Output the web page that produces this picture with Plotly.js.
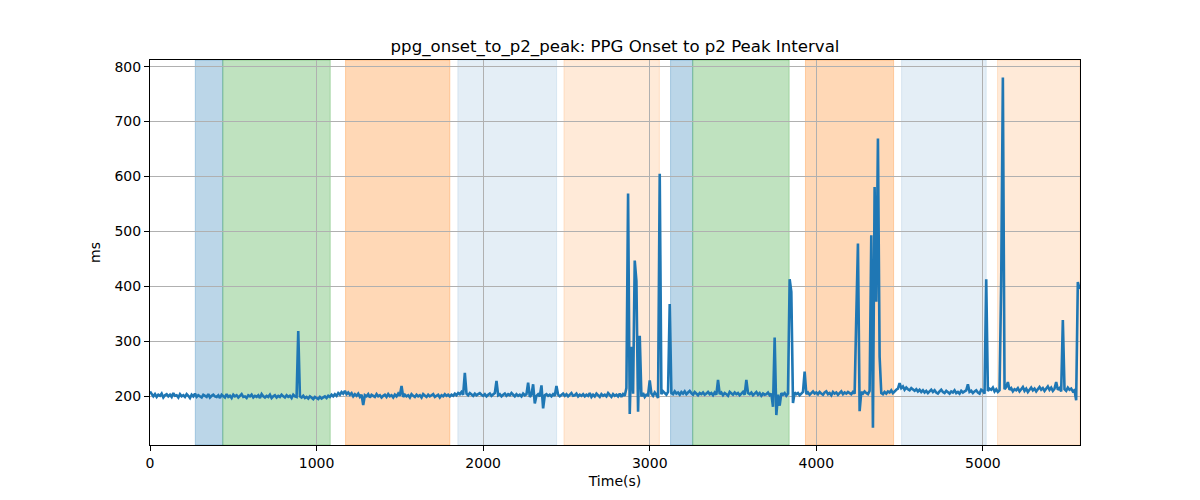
<!DOCTYPE html>
<html>
<head>
<meta charset="utf-8">
<script src="https://cdn.plot.ly/plotly-3.0.1.min.js"></script>
<style>
  html, body { margin: 0; padding: 0; background: white; }
  #chart { width: 1200px; height: 500px; }
</style>
</head>
<body>
<div id="chart"></div>
<script>
// ms value every 10 s (rows of 200 s)
const stepSeconds = 10;
const intervalMs = [
  209,203,200,204,199,203,201,205,198,202,204,200,203,199,206,201,202,198,204,200,
  202,199,204,201,197,203,200,205,199,202,200,198,203,201,199,204,198,201,203,200,
  199,202,197,203,200,198,204,199,201,197,203,200,202,198,201,204,199,200,197,202,
  200,203,198,201,199,202,197,204,200,198,201,199,203,197,200,202,198,201,199,203,
  200,198,202,199,201,197,203,200,199,319,200,198,201,197,199,196,200,198,195,199,
  197,195,199,196,198,200,197,201,199,203,200,204,201,206,203,208,205,210,204,207,
  203,206,200,204,201,205,199,203,184,202,200,204,198,203,201,199,204,200,202,198,
  201,203,199,204,200,202,198,203,200,205,201,219,199,203,200,202,198,204,201,199,
  203,200,202,198,204,201,199,203,200,202,204,199,201,203,198,202,200,204,201,203,
  200,203,201,205,202,206,204,208,203,243,205,202,206,203,201,205,202,204,206,203,
  201,204,200,203,205,201,203,206,228,202,204,200,203,205,201,204,202,206,203,200,
  204,201,203,200,205,202,204,225,199,203,222,187,201,204,200,220,178,202,204,201,
  203,200,204,201,219,203,200,202,205,201,204,200,203,206,201,202,205,200,203,201,
  204,200,203,201,206,199,203,200,205,202,199,204,201,203,200,206,202,199,204,201,
  203,200,205,199,204,201,215,569,168,290,205,447,410,172,310,200,206,199,203,202,
  229,205,201,207,203,197,605,204,209,206,203,208,368,206,204,209,205,207,203,208,
  205,209,204,207,210,206,203,208,205,202,206,204,207,203,205,208,204,206,202,207,
  203,230,204,207,202,206,204,201,208,205,203,207,204,206,202,205,208,203,230,206,
  204,207,202,205,208,203,206,201,205,203,204,207,202,205,181,307,166,203,183,206,
  203,206,201,205,413,390,188,207,204,206,202,205,208,245,204,207,203,206,209,205,
  207,204,208,205,203,207,209,204,206,202,208,205,207,203,206,209,204,207,205,208,
  206,204,208,205,346,478,173,208,205,209,206,204,210,493,143,581,372,669,272,206,
  204,208,205,209,207,211,206,210,212,214,224,215,218,212,216,213,211,215,212,210,
  213,209,212,208,211,207,210,206,209,212,208,211,207,205,209,212,208,206,210,207,
  205,209,207,211,206,208,205,210,207,209,211,222,208,210,206,209,211,207,205,212,
  210,205,413,210,214,212,216,209,213,208,211,411,780,213,217,226,212,215,209,213,
  211,215,209,213,217,210,214,208,212,216,211,214,209,213,217,212,215,210,214,218,
  212,216,210,214,226,212,215,209,339,213,210,216,212,214,209,211,193,408,395
];
const timeSeconds = intervalMs.map((_, i) => i * stepSeconds);

// shaded segments (s)
const bandStart = [272, 437, 1174, 1848, 2485, 3125, 3258, 3935, 4512, 5088];
const bandEnd   = [437, 1082, 1800, 2441, 3058, 3258, 3837, 4464, 5020, 5583];
const bandColor = [
  'rgba(31,119,180,0.3)', 'rgba(44,160,44,0.3)', 'rgba(255,127,14,0.3)',
  'rgba(31,119,180,0.12)', 'rgba(255,127,14,0.16)',
  'rgba(31,119,180,0.3)', 'rgba(44,160,44,0.3)', 'rgba(255,127,14,0.3)',
  'rgba(31,119,180,0.12)', 'rgba(255,127,14,0.16)'
];

const shapes = bandStart.map((x0, i) => ({
  type: 'rect',
  xref: 'x', yref: 'paper',
  x0: x0, x1: bandEnd[i], y0: 0, y1: 1,
  fillcolor: bandColor[i],
  line: { color: bandColor[i], width: 1 },
  layer: 'below'
}));

const trace = {
  x: timeSeconds,
  y: intervalMs,
  type: 'scatter',
  mode: 'lines',
  line: { color: '#1f77b4', width: 2.6 },
  hoverinfo: 'x+y'
};

const font = 'DejaVu Sans, sans-serif';

const layout = {
  width: 1200,
  height: 500,
  margin: { l: 150, r: 120, t: 60, b: 55 },
  paper_bgcolor: 'white',
  plot_bgcolor: 'white',
  showlegend: false,
  font: { family: font, color: 'black', size: 14 },
  title: {
    text: 'ppg_onset_to_p2_peak: PPG Onset to p2 Peak Interval',
    font: { family: font, size: 16.6, color: 'black' },
    x: 0.5125, xanchor: 'center',
    yref: 'container', y: 0.908, yanchor: 'middle'
  },
  xaxis: {
    title: { text: 'Time(s)', font: { family: font, size: 14 }, standoff: 6 },
    range: [0, 5583],
    tickvals: [0, 1000, 2000, 3000, 4000, 5000],
    ticks: 'outside', ticklen: 5, tickcolor: 'black',
    showline: true, mirror: true, linecolor: 'black', linewidth: 1,
    showgrid: true, gridcolor: '#b0b0b0', gridwidth: 0.8,
    zeroline: false,
    tickfont: { family: font, size: 14 }
  },
  yaxis: {
    title: { text: 'ms', font: { family: font, size: 14 }, standoff: 10 },
    range: [111.5, 812],
    tickvals: [200, 300, 400, 500, 600, 700, 800],
    ticks: 'outside', ticklen: 5, tickcolor: 'black',
    showline: true, mirror: true, linecolor: 'black', linewidth: 1,
    showgrid: true, gridcolor: '#b0b0b0', gridwidth: 0.8,
    zeroline: false,
    tickfont: { family: font, size: 14 }
  },
  shapes: shapes
};

Plotly.newPlot('chart', [trace], layout, { displayModeBar: false, responsive: false });
</script>
</body>
</html>
